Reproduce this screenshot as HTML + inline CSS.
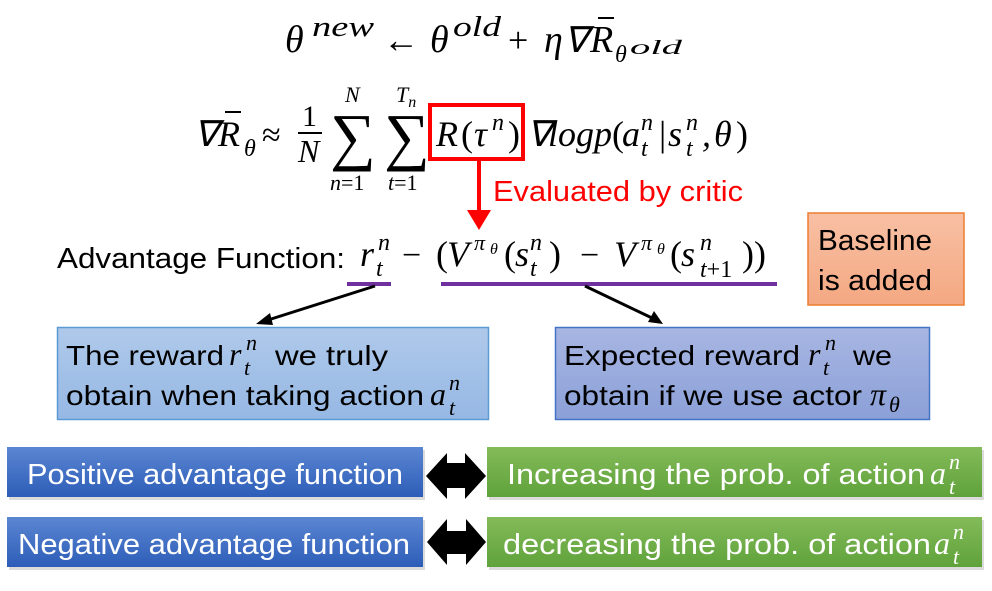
<!DOCTYPE html>
<html><head><meta charset="utf-8"><style>
html,body{margin:0;padding:0;background:#fff;}
body{width:992px;height:591px;overflow:hidden;position:relative;}
svg{position:absolute;left:0;top:0;}
.m{font-family:"Liberation Serif",serif;font-style:italic;}
.r{font-family:"Liberation Serif",serif;}
.s{font-family:"Liberation Sans",sans-serif;}
</style></head><body>
<svg width="992" height="591" viewBox="0 0 992 591">
<defs>
<linearGradient id="gb" x1="0" y1="0" x2="0" y2="1"><stop offset="0" stop-color="#5b86d2"/><stop offset="1" stop-color="#2d5db8"/></linearGradient>
<linearGradient id="gg" x1="0" y1="0" x2="0" y2="1"><stop offset="0" stop-color="#84bb5a"/><stop offset="1" stop-color="#5fa23a"/></linearGradient>
<linearGradient id="go" x1="0" y1="0" x2="0" y2="1"><stop offset="0" stop-color="#f8c0a4"/><stop offset="1" stop-color="#f4a882"/></linearGradient>
<linearGradient id="g1" x1="0" y1="0" x2="0" y2="1"><stop offset="0" stop-color="#afc9ea"/><stop offset="1" stop-color="#96b8e4"/></linearGradient>
<linearGradient id="g2" x1="0" y1="0" x2="0" y2="1"><stop offset="0" stop-color="#a8b6e2"/><stop offset="1" stop-color="#8ba0d8"/></linearGradient>
</defs>

<!-- line 1 -->
<g class="m">
<text x="285" y="52" font-size="38">θ</text>
<text x="312" y="36" font-size="28" textLength="62" lengthAdjust="spacingAndGlyphs">new</text>
<text x="383" y="52" font-size="36" class="r" font-style="normal">←</text>
<text x="430" y="52" font-size="38">θ</text>
<text x="453" y="36" font-size="28" textLength="48" lengthAdjust="spacingAndGlyphs">old</text>
<text x="508" y="52" font-size="36" class="r" font-style="normal">+</text>
<text x="544" y="52" font-size="38">η</text>
<text x="564" y="52" font-size="36">∇</text>
<text x="590" y="52" font-size="38">R</text>
<line x1="598" y1="18" x2="614" y2="18" stroke="#000" stroke-width="2"/>
<text x="615" y="62" font-size="24">θ</text>
<text x="630" y="54" font-size="20" textLength="52" lengthAdjust="spacingAndGlyphs">old</text>
</g>

<!-- line 2 -->
<g class="m">
<text x="194" y="146" font-size="36">∇</text>
<text x="218" y="146" font-size="36">R</text>
<line x1="225" y1="112" x2="241" y2="112" stroke="#000" stroke-width="2"/>
<text x="244" y="156" font-size="24">θ</text>
<text x="262" y="146" font-size="34" class="r" font-style="normal">≈</text>
<text x="302" y="126" class="r" font-style="normal" font-size="30">1</text>
<line x1="298" y1="133" x2="322" y2="133" stroke="#000" stroke-width="2"/>
<text x="298" y="162" font-size="32">N</text>
<text x="330" y="158" class="r" font-style="normal" font-size="64">∑</text>
<text x="384" y="158" class="r" font-style="normal" font-size="64">∑</text>
<text x="345" y="102" font-size="22">N</text>
<text x="396" y="102" font-size="22">T<tspan font-size="16" dy="5">n</tspan></text>
<text x="330" y="190" font-size="22">n<tspan class="r" font-style="normal">=1</tspan></text>
<text x="388" y="190" font-size="22">t<tspan class="r" font-style="normal">=1</tspan></text>
<rect x="430" y="105" width="93" height="54" fill="none" stroke="#f00" stroke-width="4"/>
<text x="436" y="146" font-size="36">R</text>
<text x="461" y="146" font-size="36" class="r" font-style="normal">(</text>
<text x="474" y="146" font-size="36">τ</text>
<text x="492" y="130" font-size="24">n</text>
<text x="508" y="146" font-size="36" class="r" font-style="normal">)</text>
<text x="527" y="146" font-size="36">∇</text>
<text x="548" y="146" font-size="36" textLength="64" lengthAdjust="spacingAndGlyphs">logp</text>
<text x="612" y="146" font-size="36" class="r" font-style="normal">(</text>
<text x="622" y="146" font-size="36">a</text>
<text x="641" y="130" font-size="24">n</text>
<text x="641" y="156" font-size="24">t</text>
<text x="659" y="146" font-size="36" class="r" font-style="normal">|</text>
<text x="668" y="146" font-size="36">s</text>
<text x="686" y="130" font-size="24">n</text>
<text x="686" y="156" font-size="24">t</text>
<text x="702" y="146" font-size="36">,</text>
<text x="714" y="146" font-size="36">θ</text>
<text x="736" y="146" font-size="36" class="r" font-style="normal">)</text>
</g>

<!-- red arrow -->
<line x1="479" y1="159" x2="479" y2="212" stroke="#f00" stroke-width="4"/>
<polygon points="467,210 491,210 479,230" fill="#f00"/>
<text x="493" y="201" class="s" font-size="29" fill="#f00" textLength="250" lengthAdjust="spacingAndGlyphs">Evaluated by critic</text>

<!-- advantage -->
<text x="57" y="268" class="s" font-size="29" textLength="288" lengthAdjust="spacingAndGlyphs">Advantage Function:</text>
<g class="m">
<text x="360" y="266" font-size="36">r</text>
<text x="378" y="250" font-size="24">n</text>
<text x="376" y="276" font-size="24">t</text>
<text x="402" y="266" font-size="34" class="r" font-style="normal">−</text>
<text x="436" y="266" font-size="36" class="r" font-style="normal">(</text>
<text x="447" y="266" font-size="36">V</text>
<text x="474" y="250" font-size="22">π</text>
<text x="490" y="254" font-size="16">θ</text>
<text x="504" y="266" font-size="36" class="r" font-style="normal">(</text>
<text x="515" y="266" font-size="36">s</text>
<text x="530" y="250" font-size="24">n</text>
<text x="530" y="276" font-size="24">t</text>
<text x="549" y="266" font-size="36" class="r" font-style="normal">)</text>
<text x="580" y="266" font-size="34" class="r" font-style="normal">−</text>
<text x="614" y="266" font-size="36">V</text>
<text x="641" y="250" font-size="22">π</text>
<text x="657" y="254" font-size="16">θ</text>
<text x="670" y="266" font-size="36" class="r" font-style="normal">(</text>
<text x="681" y="266" font-size="36">s</text>
<text x="700" y="250" font-size="24">n</text>
<text x="700" y="277" font-size="24">t<tspan class="r" font-style="normal">+1</tspan></text>
<text x="742" y="266" font-size="36" class="r" font-style="normal">))</text>
</g>
<rect x="347" y="282" width="44" height="4" fill="#7030a0"/>
<rect x="441" y="282" width="336" height="4" fill="#7030a0"/>

<!-- black arrows -->
<line x1="375" y1="286" x2="268" y2="320" stroke="#000" stroke-width="3"/>
<polygon points="256,324 270,313 273,325" fill="#000"/>
<line x1="585" y1="286" x2="652" y2="318" stroke="#000" stroke-width="3"/>
<polygon points="663,324 648,322 654,311" fill="#000"/>

<!-- baseline box -->
<rect x="808" y="213" width="156" height="92" fill="url(#go)" stroke="#ed7d31" stroke-width="1.5"/>
<text x="818" y="250" class="s" font-size="29" textLength="114" lengthAdjust="spacingAndGlyphs">Baseline</text>
<text x="818" y="290" class="s" font-size="29" textLength="114" lengthAdjust="spacingAndGlyphs">is added</text>

<!-- explain boxes -->
<rect x="57.5" y="327.5" width="431" height="92" fill="url(#g1)" stroke="#5b9bd5" stroke-width="1.5"/>
<text x="66" y="365" class="s" font-size="28" textLength="158" lengthAdjust="spacingAndGlyphs">The reward</text>
<text x="229" y="365" class="m" font-size="32">r</text>
<text x="246" y="350" class="m" font-size="22">n</text>
<text x="244" y="375" class="m" font-size="22">t</text>
<text x="275" y="365" class="s" font-size="28" textLength="113" lengthAdjust="spacingAndGlyphs">we truly</text>
<text x="66" y="405" class="s" font-size="28" textLength="358" lengthAdjust="spacingAndGlyphs">obtain when taking action</text>
<text x="430" y="405" class="m" font-size="32">a</text>
<text x="449" y="390" class="m" font-size="22">n</text>
<text x="449" y="415" class="m" font-size="22">t</text>

<rect x="555.5" y="327.5" width="374" height="92" fill="url(#g2)" stroke="#4472c4" stroke-width="1.5"/>
<text x="564" y="365" class="s" font-size="28" textLength="236" lengthAdjust="spacingAndGlyphs">Expected reward</text>
<text x="808" y="365" class="m" font-size="32">r</text>
<text x="825" y="350" class="m" font-size="22">n</text>
<text x="823" y="375" class="m" font-size="22">t</text>
<text x="853" y="365" class="s" font-size="28" textLength="39" lengthAdjust="spacingAndGlyphs">we</text>
<text x="564" y="405" class="s" font-size="28" textLength="298" lengthAdjust="spacingAndGlyphs">obtain if we use actor</text>
<text x="870" y="405" class="m" font-size="32">π</text>
<text x="889" y="412" class="m" font-size="22">θ</text>

<!-- bottom rows -->
<rect x="9" y="450" width="416" height="50" fill="#999" opacity="0.35"/>
<rect x="7" y="447" width="416" height="50" fill="url(#gb)"/>
<text x="27" y="484" class="s" font-size="29" fill="#fff" textLength="376" lengthAdjust="spacingAndGlyphs">Positive advantage function</text>
<rect x="489" y="450" width="495" height="50" fill="#999" opacity="0.35"/>
<rect x="487" y="447" width="495" height="50" fill="url(#gg)"/>
<text x="507" y="484" class="s" font-size="29" fill="#fff" textLength="418" lengthAdjust="spacingAndGlyphs">Increasing the prob. of action</text>
<text x="930" y="484" class="m" font-size="32" fill="#fff">a</text>
<text x="949" y="469" class="m" font-size="22" fill="#fff">n</text>
<text x="949" y="494" class="m" font-size="22" fill="#fff">t</text>

<rect x="9" y="520" width="416" height="50" fill="#999" opacity="0.35"/>
<rect x="7" y="517" width="416" height="50" fill="url(#gb)"/>
<text x="18" y="554" class="s" font-size="29" fill="#fff" textLength="392" lengthAdjust="spacingAndGlyphs">Negative advantage function</text>
<rect x="489" y="520" width="495" height="50" fill="#999" opacity="0.35"/>
<rect x="487" y="517" width="495" height="50" fill="url(#gg)"/>
<text x="503" y="554" class="s" font-size="29" fill="#fff" textLength="428" lengthAdjust="spacingAndGlyphs">decreasing the prob. of action</text>
<text x="934" y="554" class="m" font-size="32" fill="#fff">a</text>
<text x="953" y="539" class="m" font-size="22" fill="#fff">n</text>
<text x="953" y="564" class="m" font-size="22" fill="#fff">t</text>

<!-- double arrows -->
<polygon points="426,476 447,453 447,463 465,463 465,453 486,476 465,499 465,488 447,488 447,499" fill="#000"/>
<polygon points="427,542 447,519 447,531 466,531 466,519 486,542 466,565 466,554 447,554 447,565" fill="#000"/>
</svg>
</body></html>
